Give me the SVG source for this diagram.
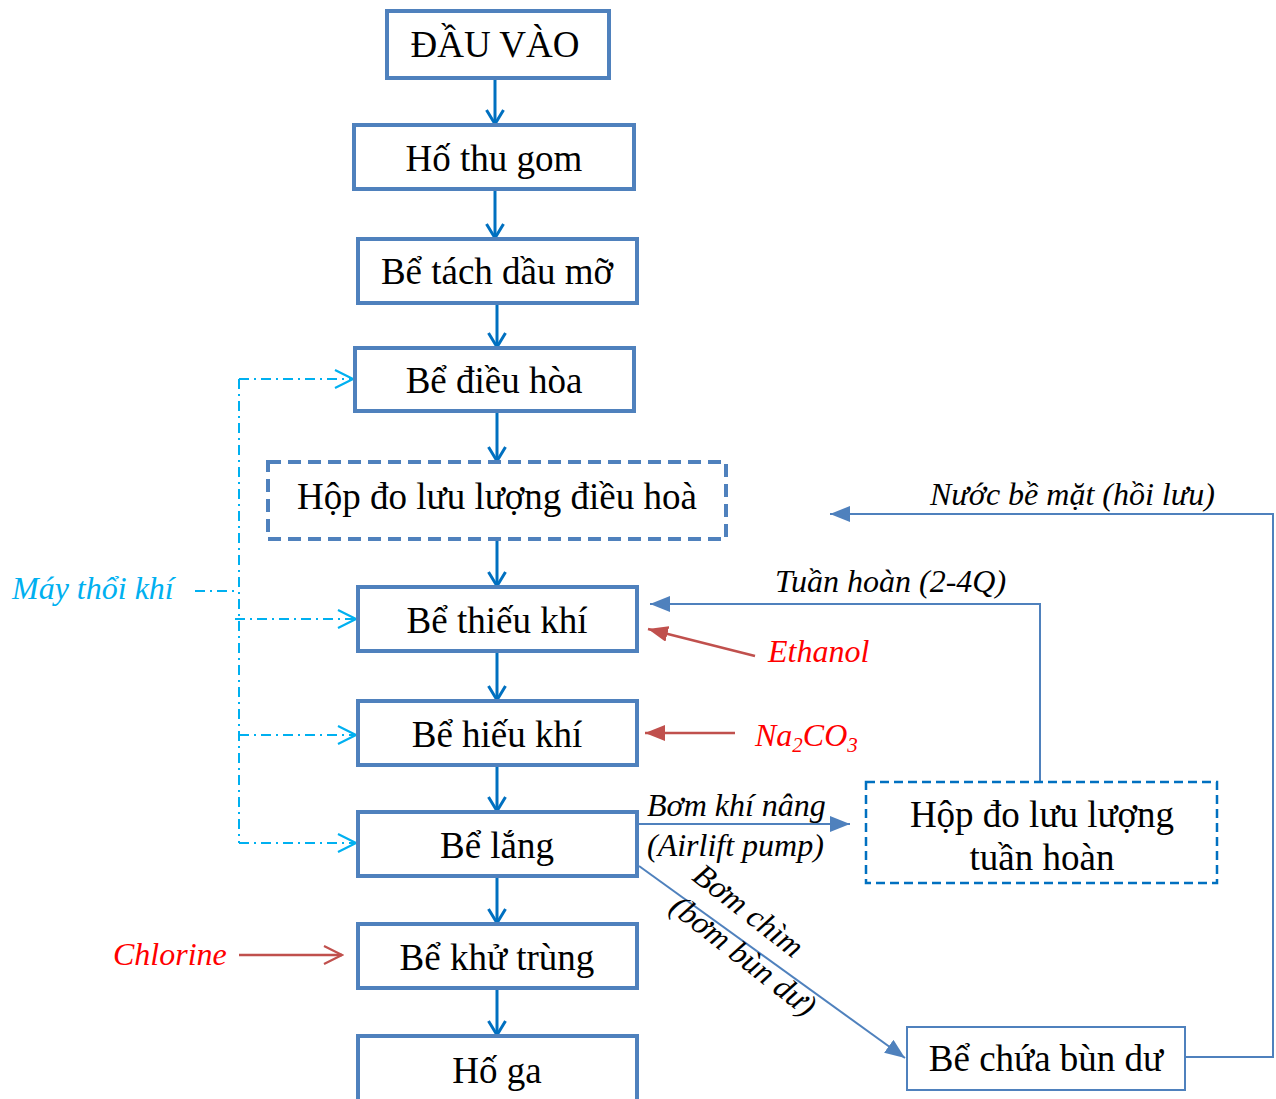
<svg xmlns="http://www.w3.org/2000/svg" width="1276" height="1099" viewBox="0 0 1276 1099">
<defs>
<style>
.box{fill:#fff;stroke:#4f81bd;stroke-width:4}
.dbox{fill:#fff;stroke:#4f81bd;stroke-width:4;stroke-dasharray:13 7}
.dbox2{fill:#fff;stroke:#0070c0;stroke-width:2.5;stroke-dasharray:9 5}
.box2{fill:#fff;stroke:#4f81bd;stroke-width:2}
.t{font-family:'Liberation Serif','DejaVu Serif',serif;font-size:37px;fill:#000;text-anchor:middle}
.it{font-family:'Liberation Serif','DejaVu Serif',serif;font-style:italic;font-size:32px;fill:#000}
.red{fill:#ff0000}
.cyan{fill:#00b0f0}
.flow{stroke:#0070c0;stroke-width:3;fill:none;marker-end:url(#vblue)}
.air{stroke:#00b0f0;stroke-width:2;fill:none;stroke-dasharray:10 5 2 5}
.airA{marker-end:url(#vcyan)}
.link{stroke:#4f81bd;stroke-width:2;fill:none}
.linkA{marker-end:url(#tri)}
.chem{stroke:#c0504d;stroke-width:2.5;fill:none}
</style>
<marker id="vblue" viewBox="0 0 18 20" refX="16" refY="10" markerWidth="18" markerHeight="20" markerUnits="userSpaceOnUse" orient="auto"><path d="M2,1.5 L16,10 L2,18.5" fill="none" stroke="#0070c0" stroke-width="3"/></marker>
<marker id="vcyan" viewBox="0 0 22 22" refX="20" refY="11" markerWidth="22" markerHeight="22" markerUnits="userSpaceOnUse" orient="auto"><path d="M2,2 L20,11 L2,20" fill="none" stroke="#00b0f0" stroke-width="2.2"/></marker>
<marker id="vred" viewBox="0 0 22 22" refX="20" refY="11" markerWidth="22" markerHeight="22" markerUnits="userSpaceOnUse" orient="auto"><path d="M2,2 L20,11 L2,20" fill="none" stroke="#c0504d" stroke-width="2.2"/></marker>
<marker id="tri" viewBox="0 0 20 16" refX="20" refY="8" markerWidth="20" markerHeight="16" markerUnits="userSpaceOnUse" orient="auto"><path d="M0,0 L20,8 L0,16 Z" fill="#4f81bd"/></marker>
<marker id="trired" viewBox="0 0 20 16" refX="20" refY="8" markerWidth="20" markerHeight="16" markerUnits="userSpaceOnUse" orient="auto"><path d="M0,0 L20,8 L0,16 Z" fill="#c0504d"/></marker>
</defs>
<rect width="1276" height="1099" fill="#fff"/>

<g id="connectors">
<line class="flow" x1="495" y1="78" x2="495" y2="124"/>
<line class="flow" x1="495" y1="189" x2="495" y2="238"/>
<line class="flow" x1="497" y1="303" x2="497" y2="347"/>
<line class="flow" x1="497" y1="411" x2="497" y2="461"/>
<line class="flow" x1="497" y1="539" x2="497" y2="586"/>
<line class="flow" x1="497" y1="651" x2="497" y2="700"/>
<line class="flow" x1="497" y1="765" x2="497" y2="811"/>
<line class="flow" x1="497" y1="876" x2="497" y2="923"/>
<line class="flow" x1="497" y1="988" x2="497" y2="1035"/>

<line class="air" x1="239" y1="379" x2="239" y2="843"/>
<line class="air airA" x1="239" y1="379" x2="353" y2="379"/>
<line class="air airA" x1="235" y1="619" x2="356" y2="619"/>
<line class="air airA" x1="239" y1="735" x2="356" y2="735"/>
<line class="air airA" x1="239" y1="843" x2="356" y2="843"/>
<line class="air" x1="195" y1="591" x2="237" y2="591"/>

<polyline class="link linkA" points="1186,1057 1273,1057 1273,514 830,514"/>
<polyline class="link linkA" points="1040,781 1040,604 650,604"/>
<line class="link linkA" x1="638" y1="824" x2="850" y2="824"/>
<line class="link linkA" x1="639" y1="866" x2="905" y2="1058"/>

<line class="chem" x1="755" y1="656" x2="648" y2="629" marker-end="url(#trired)"/>
<line class="chem" x1="735" y1="733" x2="645" y2="733" marker-end="url(#trired)"/>
<line class="chem" x1="239" y1="955" x2="342" y2="955" marker-end="url(#vred)"/>
</g>

<g id="n-dauvao"><rect class="box" x="387" y="11" width="222" height="67"/><text class="t" x="495" y="57">ĐẦU VÀO</text></g>
<g id="n-hothugom"><rect class="box" x="354" y="125" width="280" height="64"/><text class="t" x="494" y="171">Hố thu gom</text></g>
<g id="n-betachdau"><rect class="box" x="358" y="239" width="279" height="64"/><text class="t" x="497" y="284">Bể tách dầu mỡ</text></g>
<g id="n-bedieuhoa"><rect class="box" x="355" y="348" width="279" height="63"/><text class="t" x="494" y="393">Bể điều hòa</text></g>
<g id="n-hopdo"><rect class="dbox" x="268" y="462" width="458" height="77"/><text class="t" x="497" y="509">Hộp đo lưu lượng điều hoà</text></g>
<g id="n-thieukhi"><rect class="box" x="358" y="587" width="279" height="64"/><text class="t" x="497" y="633">Bể thiếu khí</text></g>
<g id="n-hieukhi"><rect class="box" x="358" y="701" width="279" height="64"/><text class="t" x="497" y="747">Bể hiếu khí</text></g>
<g id="n-belang"><rect class="box" x="358" y="812" width="279" height="64"/><text class="t" x="497" y="858">Bể lắng</text></g>
<g id="n-khutrung"><rect class="box" x="358" y="924" width="279" height="64"/><text class="t" x="497" y="970">Bể khử trùng</text></g>
<g id="n-hoga"><rect class="box" x="358" y="1036" width="279" height="70"/><text class="t" x="497" y="1083">Hố ga</text></g>
<g id="n-hoptuanhoan"><rect class="dbox2" x="866" y="782" width="351" height="101"/><text class="t" x="1042" y="827">Hộp đo lưu lượng</text><text class="t" x="1042" y="870">tuần hoàn</text></g>
<g id="n-bechuabun"><rect class="box2" x="907" y="1027" width="278" height="63"/><text class="t" x="1046" y="1071">Bể chứa bùn dư</text></g>

<g id="labels">
<text class="it cyan" x="12" y="599">Máy thổi khí</text>
<text class="it" x="930" y="505">Nước bề mặt (hồi lưu)</text>
<text class="it" x="775" y="592">Tuần hoàn (2-4Q)</text>
<text class="it red" x="768" y="662">Ethanol</text>
<text class="it red" x="755" y="746">Na<tspan font-size="21" dy="6">2</tspan><tspan dy="-6">CO</tspan><tspan font-size="21" dy="6">3</tspan></text>
<text class="it" x="647" y="816">Bơm khí nâng</text>
<text class="it" x="647" y="856">(Airlift pump)</text>
<text class="it" transform="translate(742,919) rotate(38)" text-anchor="middle">Bơm chìm</text>
<text class="it" transform="translate(737,964) rotate(38)" text-anchor="middle">(bơm bùn dư)</text>
<text class="it red" x="113" y="965">Chlorine</text>
</g>
</svg>
